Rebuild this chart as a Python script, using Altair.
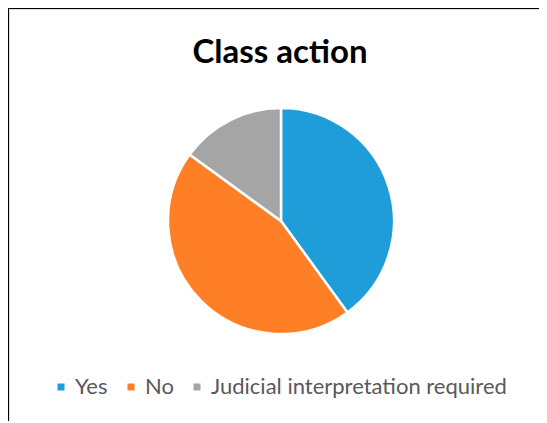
import altair as alt
import pandas as pd

categories = ["Yes", "No", "Judicial interpretation required"]
values = [40, 45, 15]
colors = ["#1F9DD9", "#FF7F27", "#A5A5A5"]

df = pd.DataFrame({"category": categories, "value": values, "idx": list(range(len(categories)))})

W, H = 530, 412

pie = alt.Chart(df).mark_arc(radius=113, stroke="white", strokeWidth=2.5).encode(
    theta=alt.Theta("value:Q", stack=True),
    order=alt.Order("idx:Q"),
    color=alt.Color(
        "category:N",
        scale=alt.Scale(domain=categories, range=colors),
        legend=alt.Legend(
            orient="none", legendX=41, legendY=367, direction="horizontal", title=None,
            symbolType="square", symbolSize=49, symbolStrokeWidth=0,
            labelFont="Lato", labelFontSize=22, labelColor="#595959",
            columnPadding=12, labelOffset=3, labelLimit=600,
        ),
    ),
    x=alt.value(272),
    y=alt.value(212),
)

border = alt.Data(values=[{}])
top_rule = alt.Chart(border).mark_rule(color="black", strokeWidth=2).encode(
    x=alt.value(-1), x2=alt.value(W), y=alt.value(-1)
)
left_rule = alt.Chart(border).mark_rule(color="black", strokeWidth=2).encode(
    x=alt.value(-1), y=alt.value(-1), y2=alt.value(H)
)

chart = alt.layer(top_rule, left_rule, pie).properties(
    width=W, height=H,
    autosize=alt.AutoSizeParams(type="none"),
    padding={"left": 1, "top": 1, "right": 0, "bottom": 0},
    title=alt.TitleParams(
        text="Class action", font="Lato", fontSize=33, fontWeight="bold", color="black",
        anchor="middle", frame="group", offset=0, baseline="alphabetic", dy=89, dx=6,
    ),
).configure_view(stroke=None).configure(background="white")

chart.save("out.html", embed_options={"renderer": "svg", "actions": False})
